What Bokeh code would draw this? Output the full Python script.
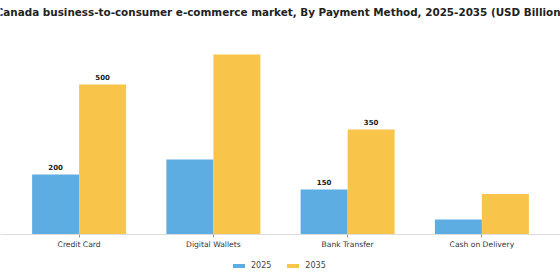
from bokeh.plotting import figure
from bokeh.models import ColumnDataSource, FactorRange, Legend, LegendItem, Label
from bokeh.transform import dodge
from bokeh.core.properties import value
from bokeh.embed import file_html
from bokeh.resources import INLINE

# Canada B2C e-commerce market by payment method (USD billion)
methods = ["Credit Card", "Digital Wallets", "Bank Transfer", "Cash on Delivery"]
values_2025 = [200, 250, 150, 50]
values_2035 = [500, 600, 350, 135]
# value annotations drawn above selected bars ("" = no label)
labels_2025 = ["200", "", "150", ""]
labels_2035 = ["500", "", "350", ""]
title_text = "Canada business-to-consumer e-commerce market, By Payment Method, 2025-2035 (USD Billion)"

BLUE = "#5DADE2"
YELLOW = "#F8C44A"
FONT = "DejaVu Sans"

src = ColumnDataSource(dict(
    method=methods,
    v2025=values_2025,
    v2035=values_2035,
    l2025=labels_2025,
    l2035=labels_2035,
))

# the frame covers the whole canvas; the category axis is pinned at y=0
p = figure(
    width=560, height=280,
    x_range=FactorRange(*methods, range_padding=0.0855, range_padding_units="absolute"),
    y_range=(-153, 780),
    output_backend="svg", toolbar_location=None,
    y_axis_location=None,
    min_border=0,
)

p.add_layout(Label(
    x=280, y=269, x_units="screen", y_units="screen", text=title_text,
    text_align="center", text_baseline="middle",
    text_font=FONT, text_font_size="10.4px", text_font_style="bold",
    text_color="#222222",
))

r1 = p.vbar(x=dodge("method", -0.175, range=p.x_range), top="v2025", width=0.35,
            source=src, fill_color=BLUE, line_color=None)
r2 = p.vbar(x=dodge("method", 0.175, range=p.x_range), top="v2035", width=0.35,
            source=src, fill_color=YELLOW, line_color=None)

p.text(x=dodge("method", -0.175, range=p.x_range), y="v2025", text="l2025", source=src,
       text_align="center", text_baseline="bottom", y_offset=-5,
       text_font=value(FONT), text_font_size="7px", text_font_style="bold",
       text_color="#222222")
p.text(x=dodge("method", 0.175, range=p.x_range), y="v2035", text="l2035", source=src,
       text_align="center", text_baseline="bottom", y_offset=-5,
       text_font=value(FONT), text_font_size="7px", text_font_style="bold",
       text_color="#222222")

p.xgrid.visible = False
p.ygrid.visible = False
p.outline_line_color = None

ax = p.xaxis[0]
ax.fixed_location = 0
ax.axis_line_color = "#DDDDDD"
ax.axis_line_width = 1
ax.major_tick_line_color = "#999999"
ax.major_tick_out = 3
ax.major_tick_in = 0
ax.minor_tick_line_color = None
ax.major_label_text_font = FONT
ax.major_label_text_font_size = "7.6px"
ax.major_label_text_color = "#333333"
ax.major_label_standoff = 2

legend = Legend(items=[
    LegendItem(label="2025", renderers=[r1]),
    LegendItem(label="2035", renderers=[r2]),
], orientation="horizontal", location=(231, 10))
legend.label_text_font = FONT
legend.label_text_font_size = "8px"
legend.label_text_color = "#444444"
legend.glyph_width = 15
legend.glyph_height = 5
legend.spacing = 14
legend.label_standoff = 5
legend.border_line_color = None
legend.background_fill_alpha = 0
legend.padding = 4
legend.margin = 0
p.add_layout(legend)

open("out.html", "w").write(file_html(p, INLINE))
